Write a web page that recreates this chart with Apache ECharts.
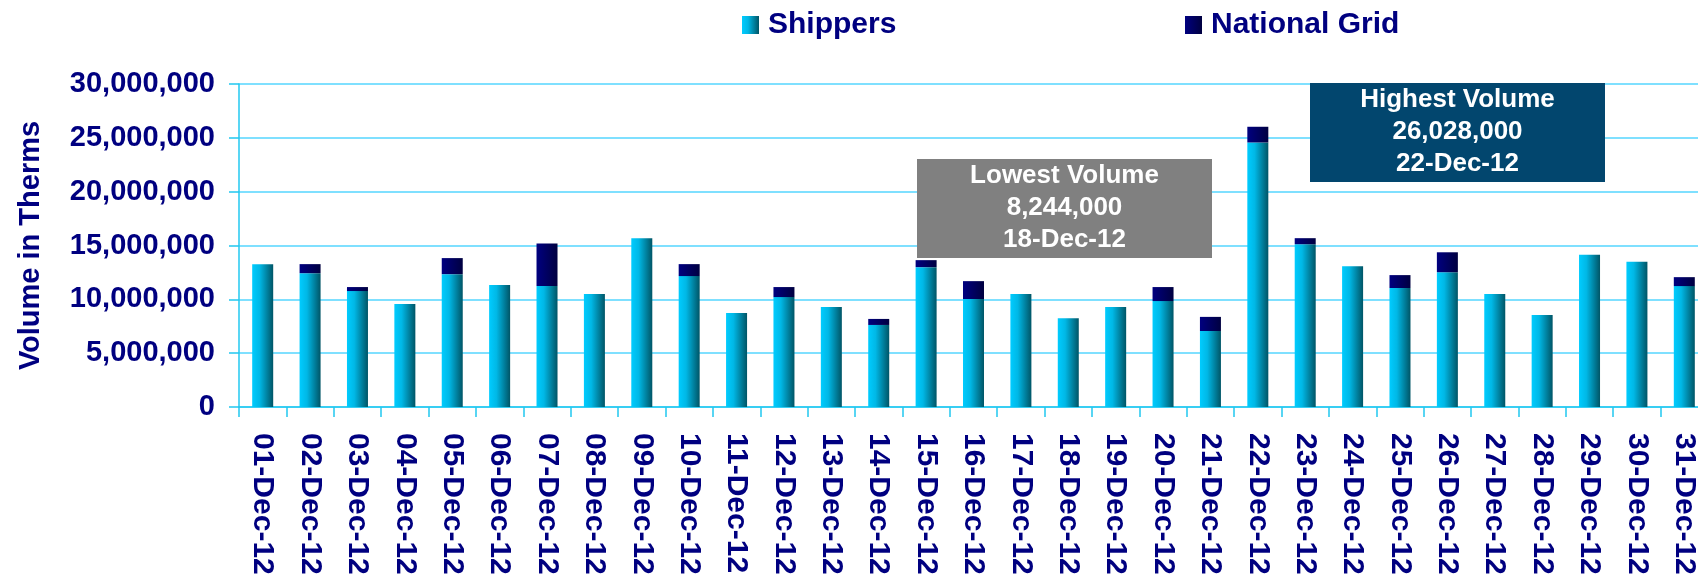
<!DOCTYPE html>
<html>
<head>
<meta charset="utf-8">
<script src="https://cdn.jsdelivr.net/npm/echarts@6/dist/echarts.min.js"></script>
<style>
  html, body { margin: 0; padding: 0; background: #fff; overflow: hidden; }
  #chart { width: 1720px; height: 620px; }
</style>
</head>
<body>
<div id="chart"></div>
<script>
// December 2012 daily volumes (therms)
const days = ['01-Dec-12', '02-Dec-12', '03-Dec-12', '04-Dec-12', '05-Dec-12', '06-Dec-12', '07-Dec-12',
  '08-Dec-12', '09-Dec-12', '10-Dec-12', '11-Dec-12', '12-Dec-12', '13-Dec-12', '14-Dec-12', '15-Dec-12',
  '16-Dec-12', '17-Dec-12', '18-Dec-12', '19-Dec-12', '20-Dec-12', '21-Dec-12', '22-Dec-12', '23-Dec-12',
  '24-Dec-12', '25-Dec-12', '26-Dec-12', '27-Dec-12', '28-Dec-12', '29-Dec-12', '30-Dec-12', '31-Dec-12'];

const shippers = [13270000, 12430000, 10770000, 9570000, 12340000, 11320000, 11230000, 10490000,
  15680000, 12160000, 8730000, 10210000, 9290000, 7620000, 12990000, 10030000, 10490000, 8244000,
  9290000, 9840000, 7060000, 24570000, 15120000, 13080000, 11050000, 12520000, 10490000, 8550000,
  14140000, 13490000, 11230000];

const nationalGrid = [0, 840000, 370000, 0, 1490000, 0, 3950000, 0, 0, 1110000, 0, 930000, 0,
  560000, 650000, 1660000, 0, 0, 0, 1300000, 1310000, 1458000, 560000, 0, 1200000, 1850000, 0, 0,
  0, 0, 830000];

const yTicks = [0, 5000000, 10000000, 15000000, 20000000, 25000000, 30000000];

const lowestNote = ['Lowest Volume', '8,244,000', '18-Dec-12'];
const highestNote = ['Highest Volume', '26,028,000', '22-Dec-12'];

const navy = '#000080';
const font = '"Liberation Sans", Arial, sans-serif';

const chart = echarts.init(document.getElementById('chart'));

// box with three centred lines, drawn above the grid lines
function noteBox(x, y, w, h, fill, lines) {
  const children = [
    { type: 'rect', z: 100, shape: { x: 0, y: 0, width: w, height: h }, style: { fill: fill } }
  ];
  lines.forEach((line, i) => {
    children.push({
      type: 'text',
      z: 101,
      x: w / 2,
      y: 17 + i * 32,
      style: {
        text: line,
        fill: '#fff',
        font: 'bold 26px ' + font,
        align: 'center',
        verticalAlign: 'middle'
      }
    });
  });
  return { type: 'group', left: x, top: y, z: 100, children: children };
}

const legendText = { color: navy, fontSize: 30, fontWeight: 'bold', fontFamily: font, padding: [0, 0, 0, 4] };

const option = {
  animation: false,
  grid: { left: 239, top: 84, width: 1469, height: 323, containLabel: false },
  legend: [
    {
      data: ['Shippers'],
      icon: 'rect',
      left: 742,
      top: 10,
      padding: 0,
      itemWidth: 17,
      itemHeight: 18,
      textStyle: legendText
    },
    {
      data: ['National Grid'],
      icon: 'rect',
      left: 1185,
      top: 10,
      padding: 0,
      itemWidth: 17,
      itemHeight: 18,
      textStyle: legendText
    }
  ],
  xAxis: {
    type: 'category',
    data: days,
    axisLine: { lineStyle: { color: '#22c8f0', width: 1.5 } },
    axisTick: { show: true, length: 10, lineStyle: { color: '#22c8f0', width: 1.5 } },
    axisLabel: {
      interval: 0,
      rotate: -90,
      margin: 26,
      color: navy,
      fontSize: 30,
      fontWeight: 'bold',
      fontFamily: font
    }
  },
  yAxis: {
    type: 'value',
    min: yTicks[0],
    max: yTicks[yTicks.length - 1],
    interval: yTicks[1] - yTicks[0],
    name: 'Volume in Therms',
    nameLocation: 'middle',
    nameRotate: 90,
    nameGap: 194,
    nameTextStyle: { color: navy, fontSize: 29, fontWeight: 'bold', fontFamily: font },
    axisLine: { show: true, lineStyle: { color: '#22c8f0', width: 1.5 } },
    axisTick: { show: true, length: 10, lineStyle: { color: '#22c8f0', width: 1.5 } },
    axisLabel: {
      margin: 24,
      color: navy,
      fontSize: 29,
      fontWeight: 'bold',
      fontFamily: font,
      formatter: (v) => v.toLocaleString('en-US')
    },
    splitLine: { lineStyle: { color: '#7fe0ff', width: 2 } }
  },
  series: [
    {
      name: 'Shippers',
      type: 'bar',
      stack: 'total',
      barWidth: 21,
      data: shippers,
      itemStyle: {
        color: new echarts.graphic.LinearGradient(0, 0, 1, 0, [
          { offset: 0, color: '#00ccff' },
          { offset: 0.35, color: '#00b8e6' },
          { offset: 1, color: '#005566' }
        ])
      }
    },
    {
      name: 'National Grid',
      type: 'bar',
      stack: 'total',
      barWidth: 21,
      data: nationalGrid,
      itemStyle: {
        color: new echarts.graphic.LinearGradient(0, 0, 1, 0, [
          { offset: 0, color: '#000080' },
          { offset: 1, color: '#000040' }
        ])
      }
    }
  ],
  graphic: {
    elements: [
      noteBox(917, 159, 295, 99, '#808080', lowestNote),
      noteBox(1310, 83, 295, 99, '#02466e', highestNote)
    ]
  }
};

chart.setOption(option);
</script>
</body>
</html>
